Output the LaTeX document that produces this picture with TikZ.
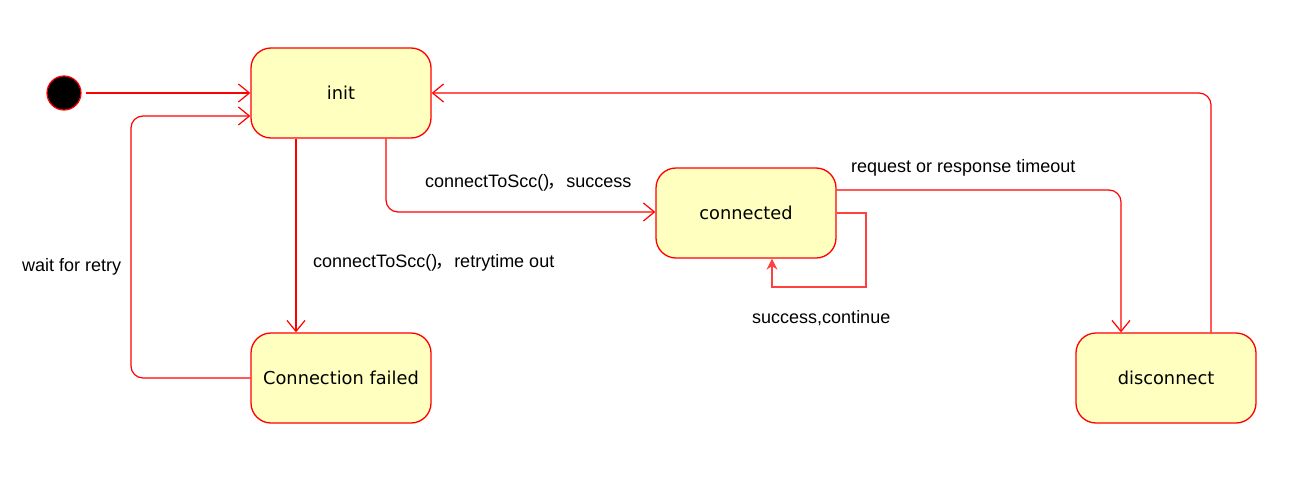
\documentclass[tikz,border=0pt]{standalone}
\usepackage{fontspec}
\setmainfont{Liberation Sans}
\newfontfamily\nodefont{DejaVu Sans}
\newfontfamily\cjk{Noto Sans CJK SC}
\usetikzlibrary{arrows.meta}
\definecolor{linered}{HTML}{FF0000}
\definecolor{loopred}{HTML}{FF4040}
\definecolor{statefill}{HTML}{FFFFC0}
\begin{document}
\begin{tikzpicture}[x=1pt,y=-1pt,
  state/.style={draw=linered,fill=statefill,rounded corners=20pt,line width=1.3pt,
    minimum width=180pt,minimum height=90pt,inner sep=0pt,
    font=\nodefont\fontsize{17.8}{20}\selectfont},
  trans/.style={draw=linered,line width=1.2pt,rounded corners=12pt,
    -{Straight Barb[length=11pt,width=18pt,line width=1.2pt]}},
  lbl/.style={font=\fontsize{18}{21}\selectfont,inner sep=0pt}]
\useasboundingbox (0,0) rectangle (1316,495);
\node[circle,fill=black,draw=linered,line width=1.2pt,minimum size=34pt,inner sep=0pt] (start) at (64,93) {};
\coordinate (s0) at (86,93);
\node[state] (init) at (341,93) {init};
\node[state] (failed) at (341,378) {Connection failed};
\node[state] (conn) at (746,213) {connected};
\node[state] (disc) at (1166,378) {disconnect};
\draw[trans] (s0) -- (init.west);
\draw[trans] (failed.west) -- (131,378) -- (131,116) -- (init.west |- 0,116);
\draw[trans] (init.south -| 296,0) -- (failed.north -| 296,0);
\draw[trans] (init.south -| 386,0) -- (386,212) -- (conn.west |- 0,212);
\draw[trans] (conn.east |- 0,190) -- (1121,190) -- (disc.north -| 1121,0);
\draw[trans] (disc.north -| 1211,0) -- (1211,93) -- (init.east);
\draw[draw=loopred,line width=1.3pt,-{Stealth[length=11pt,width=11pt]}]
  (conn.east |- 0,213) -- (866,213) -- (866,287) -- (772,287) -- (conn.south -| 772,0);
\node[lbl,anchor=west] (l1) at (425,183) {connectToScc()\hspace{-2pt}{\cjk ，}\hspace{1pt}success};
\node[lbl,anchor=west] (l2) at (313,263) {connectToScc()\hspace{-2pt}{\cjk ，}\hspace{1pt}retrytime out};
\node[lbl,anchor=west] (l3) at (851,168) {request or response timeout};
\node[lbl,anchor=west] (l4) at (752,318) {success,continue};
\node[lbl,anchor=west] (l5) at (22,267) {wait for retry};
\end{tikzpicture}
\end{document}
